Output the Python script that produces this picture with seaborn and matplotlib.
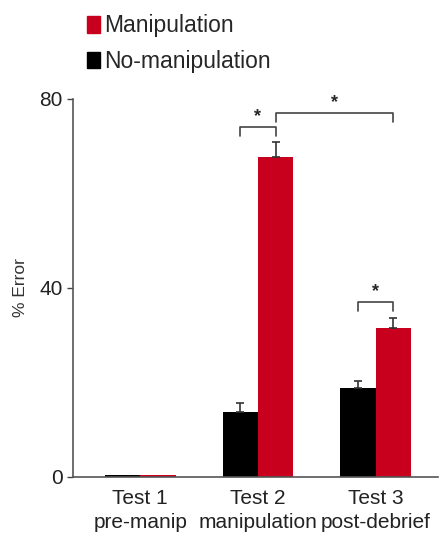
import numpy as np
import pandas as pd
import seaborn as sns
import matplotlib.pyplot as plt
from matplotlib.patches import Patch

# data
tests = ["Test 1\npre-manip", "Test 2\nmanipulation", "Test 3\npost-debrief"]
conditions = ["No-manipulation", "Manipulation"]
no_manip = [0.3, 13.8, 18.8]
manip = [0.3, 67.7, 31.5]
no_manip_err = [0.0, 1.9, 1.5]
manip_err = [0.0, 3.2, 2.1]
colors = {"No-manipulation": "#000000", "Manipulation": "#c8001e"}

df = pd.DataFrame({
    "test": tests * 2,
    "condition": [conditions[0]] * 3 + [conditions[1]] * 3,
    "value": no_manip + manip,
})

sns.set_style("ticks")
plt.rcParams['font.family'] = ['Liberation Sans', 'DejaVu Sans']

fig = plt.figure(figsize=(4.46, 5.40), dpi=100)
ax = fig.add_axes([0.164, 0.117, 0.818, 0.7])

sns.barplot(data=df, x="test", y="value", hue="condition", hue_order=conditions,
            palette=colors, saturation=1, width=0.6, errorbar=None, legend=False,
            edgecolor="none", ax=ax)

# error bars (upper only) and bar centres
centres = {}
for cont, cond, errs in zip(ax.containers, conditions, [no_manip_err, manip_err]):
    xs = [b.get_x() + b.get_width() / 2 for b in cont]
    hs = [b.get_height() for b in cont]
    centres[cond] = xs
    ax.errorbar(xs[1:], hs[1:], yerr=[np.zeros(2), errs[1:]], fmt="none",
                ecolor="#333333", elinewidth=1.2, capsize=3, capthick=1.2)

# significance brackets
def bracket(x1, x2, y, drop=2.0):
    ax.plot([x1, x1, x2, x2], [y - drop, y, y, y - drop], color="#444444",
            lw=1.2, clip_on=False)
    ax.text((x1 + x2) / 2, y + 0.3, "*", ha="center", va="bottom",
            fontsize=13, fontweight="bold", clip_on=False)

bracket(centres["No-manipulation"][1], centres["Manipulation"][1], 74.1)
bracket(centres["Manipulation"][1], centres["Manipulation"][2], 77.0)
bracket(centres["No-manipulation"][2], centres["Manipulation"][2], 37.0)

ax.set_ylim(0, 80)
ax.set_xlim(-0.57, 2.53)
ax.set_yticks([0, 40, 80])
ax.set_xlabel("")
ax.set_ylabel("% Error", fontsize=12.5, color="#333333", labelpad=8)
ax.tick_params(axis="y", labelsize=15, length=4, width=1, colors="#444444",
               labelcolor="#222222")
ax.tick_params(axis="x", labelsize=15, length=0, pad=9, labelcolor="#222222")
for lab in ax.get_xticklabels():
    lab.set_linespacing(1.3)
sns.despine(ax=ax)
for s in ["left", "bottom"]:
    ax.spines[s].set_color("#555555")
    ax.spines[s].set_linewidth(1.2)

handles = [Patch(color=colors["Manipulation"], label="Manipulation"),
           Patch(color=colors["No-manipulation"], label="No-manipulation")]
fig.legend(handles=handles, loc="upper left", bbox_to_anchor=(0.165, 0.999),
           frameon=False, fontsize=16.5, handlelength=0.55, handleheight=0.75,
           handletextpad=0.2, labelspacing=0.55, borderaxespad=0.2)

fig.savefig("out.png", dpi=100)
